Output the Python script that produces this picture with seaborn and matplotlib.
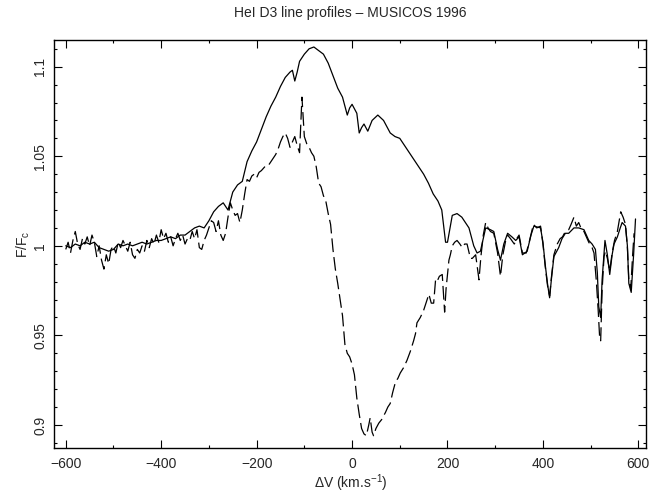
import numpy as np
import pandas as pd
import matplotlib
matplotlib.use("Agg")
import matplotlib.pyplot as plt
import seaborn as sns
from matplotlib.ticker import MultipleLocator, FuncFormatter

# Profil plein (premiere observation)
v_solid = [-600, -590, -580, -570, -560, -550, -540, -530, -520, -510, -500, -490, -480,
           -470, -460, -450, -440, -430, -420, -410, -400, -390, -380, -370, -360, -350,
           -340, -330, -320, -310, -300, -290, -280, -270, -260, -250, -240, -230, -220,
           -210, -200, -190, -180, -170, -160, -150, -140, -130, -125, -120, -115, -110,
           -100, -90, -80, -70, -60, -50, -40, -30, -20, -10, -5, 0, 10, 15, 20, 25, 33,
           42, 54, 66, 80, 90, 100, 110, 120, 130, 140, 150, 160, 170, 180, 188, 196, 200,
           210, 220, 230, 245, 255, 262, 269, 280, 290, 297, 305, 311, 318, 326, 335, 343,
           350, 357, 367, 375, 381, 395, 400, 405, 410, 414, 418, 423, 433, 440, 447, 454,
           465, 475, 486, 496, 503, 510, 514, 517, 521, 524, 530, 535, 540, 545, 549, 556,
           562, 566, 573, 577, 580, 585, 590, 594]
f_solid = [1.000, 0.999, 1.001, 1.000, 1.002, 1.001, 1.002, 0.999, 0.998, 0.997, 0.998, 1.001, 1.000,
           1.001, 1.000, 1.001, 1.002, 1.001, 1.002, 1.003, 1.003, 1.004, 1.005, 1.004, 1.006, 1.006,
           1.008, 1.010, 1.011, 1.010, 1.014, 1.019, 1.022, 1.024, 1.020, 1.030, 1.034, 1.036, 1.047,
           1.053, 1.058, 1.065, 1.072, 1.078, 1.083, 1.089, 1.094, 1.097, 1.098, 1.092, 1.097, 1.103,
           1.107, 1.110, 1.111, 1.109, 1.107, 1.102, 1.095, 1.088, 1.083, 1.073, 1.077, 1.079, 1.074,
           1.063, 1.066, 1.068, 1.064,
           1.070, 1.073, 1.070, 1.063, 1.061, 1.060, 1.056, 1.052, 1.048, 1.044, 1.040, 1.035, 1.029,
           1.025, 1.020, 1.002, 1.002,
           1.017, 1.018, 1.016, 1.010, 1.000, 0.996, 0.997, 1.010, 1.009, 1.008, 0.998, 0.992, 1.001,
           1.007, 1.005, 1.003,
           1.005, 0.995, 0.997, 1.006, 1.011, 1.010, 1.002, 0.989, 0.978, 0.971, 0.982, 0.994, 0.999,
           1.004, 1.007, 1.007,
           1.010, 1.010, 1.009, 1.003, 1.001, 0.998, 0.985, 0.966, 0.960, 0.981, 1.003, 0.995, 0.984,
           0.995, 1.001, 1.005,
           1.010, 1.013, 1.011, 1.000, 0.979, 0.974, 0.995, 1.015]

# Profil en tirets (seconde observation)
v_dash = [-600, -595, -590, -585, -580, -575, -570, -565, -560, -555, -550, -545, -540, -535,
          -530, -525, -520, -515, -510, -505, -500, -495, -490, -485, -480, -475, -470, -465,
          -460, -455, -450, -445, -440, -435, -430, -425, -420, -415, -410, -405, -400, -395,
          -390, -385, -380, -375, -370, -365, -360, -355, -350, -345, -340, -335, -330, -325,
          -320, -315, -310, -305, -300, -295, -290, -285, -280, -275, -270, -265, -260, -255,
          -250, -245, -240, -235, -230, -225, -220, -215, -210, -205, -200, -195, -190, -180,
          -175, -170, -160, -155, -150, -145, -140, -135, -130, -125, -120, -115, -110, -105,
          -100, -95, -90, -85, -80, -75, -70, -65, -60, -55, -50, -45, -40, -35, -30, -25,
          -20, -15, -10, -5, 0, 5, 10, 15, 20, 25, 30, 35, 38, 42, 45, 50, 56, 62, 70, 75,
          80, 85, 91, 96, 101, 108, 115, 122, 129, 133, 136, 143, 150, 156, 161, 166, 171,
          175, 178, 183, 189, 194, 197, 203, 206, 210, 215, 220, 226, 231, 236, 241, 248,
          252, 259, 263, 266, 270, 275, 280, 285, 290, 297, 305, 311, 316, 322, 326, 332,
          340, 345, 350, 357, 365, 372, 380, 387, 395, 400, 405, 410, 414, 418, 423, 430,
          436, 441, 447, 454, 459, 465, 470, 475, 481, 486, 496, 503, 507, 512, 516, 519,
          521, 524, 528, 531, 535, 540, 545, 550, 556, 563, 568, 573, 577, 580, 584, 588, 591]
f_dash = [0.998, 1.002, 0.996, 1.003, 1.008, 1.001, 0.998, 1.004, 1.001, 1.005, 1.000, 1.006, 1.002, 0.994,
          1.000, 0.992, 0.987, 0.995, 0.990, 0.998, 1.000, 0.996, 1.002, 0.999, 1.003, 1.000, 0.997, 1.002,
          0.995, 0.993, 0.998, 0.996, 1.000, 0.997, 1.003, 0.999, 1.004, 1.001, 1.006, 1.002, 1.009, 1.004,
          1.007, 1.002, 1.005, 1.000, 1.004, 1.007, 1.003, 1.006, 1.001, 1.004, 1.003, 1.008, 1.004, 1.009,
          0.999, 0.998, 1.003, 1.006, 1.010, 1.014, 1.013, 1.008, 1.014, 1.006, 1.003, 1.007, 1.016, 1.024,
          1.020, 1.017, 1.018, 1.013, 1.020, 1.029, 1.037, 1.036, 1.039, 1.040, 1.038, 1.041, 1.042, 1.045,
          1.045, 1.047, 1.051, 1.054, 1.058, 1.061, 1.063, 1.060, 1.055, 1.058, 1.061, 1.056, 1.052, 1.083,
          1.061, 1.057, 1.055, 1.052, 1.050, 1.044, 1.035, 1.033, 1.028, 1.025, 1.018, 1.012, 0.998, 0.987,
          0.979, 0.970,
          0.961, 0.945, 0.940, 0.938, 0.934, 0.928, 0.915, 0.906, 0.898, 0.895, 0.894, 0.900, 0.904, 0.896,
          0.894, 0.898, 0.901, 0.903, 0.907, 0.910,
          0.912, 0.918, 0.924, 0.926, 0.929, 0.932, 0.936, 0.941, 0.947, 0.951, 0.957, 0.960, 0.964, 0.969,
          0.973, 0.968, 0.968,
          0.981, 0.980, 0.983, 0.984, 0.963, 0.976, 0.992, 0.995, 1.000, 1.002, 1.003, 1.001, 0.999, 1.001,
          1.001, 0.993,
          0.993, 0.995, 0.987, 0.981, 0.994, 1.006, 1.013, 1.010, 1.008, 1.007, 0.996, 0.983, 0.995, 1.003,
          1.006, 1.004,
          1.001, 1.004, 1.006, 0.996, 0.996, 1.003, 1.012, 1.010, 1.011, 1.001, 0.988, 0.977, 0.972, 0.983,
          0.995, 1.001,
          1.004, 1.005, 1.008, 1.009, 1.012, 1.016, 1.011, 1.013, 1.009, 1.008, 1.002, 0.999, 0.996, 0.980,
          0.963, 0.948,
          0.947, 0.975, 0.994, 0.997, 0.993, 0.986, 0.996, 1.003, 1.008, 1.019, 1.016, 1.012, 0.999, 0.981,
          0.976, 0.995, 1.007]


def plot_profiles():
    sns.set_style("ticks")
    plt.rcParams["font.family"] = ["Liberation Sans", "DejaVu Sans"]
    plt.rcParams["mathtext.fontset"] = "custom"
    plt.rcParams["mathtext.rm"] = "Liberation Sans"
    plt.rcParams["mathtext.it"] = "Liberation Sans:italic"

    fig = plt.figure(figsize=(6.58, 4.97), dpi=100)
    ax = fig.add_axes([0.0825, 0.0992, 0.9000, 0.8203])

    solid = pd.DataFrame({"v": v_solid, "f": f_solid})
    dash = pd.DataFrame({"v": v_dash, "f": f_dash})

    sns.lineplot(data=solid, x="v", y="f", ax=ax, color="black", lw=0.9,
                 sort=False, estimator=None)
    sns.lineplot(data=dash, x="v", y="f", ax=ax, color="black", lw=0.9,
                 sort=False, estimator=None)
    ax.lines[1].set_linestyle((0, (11, 4)))

    ax.set_xlim(-624, 617)
    ax.set_ylim(0.8873, 1.1149)

    ax.xaxis.set_major_locator(MultipleLocator(200))
    ax.xaxis.set_minor_locator(MultipleLocator(100))
    ax.yaxis.set_major_locator(MultipleLocator(0.05))
    ax.yaxis.set_minor_locator(MultipleLocator(0.01))
    ax.yaxis.set_major_formatter(FuncFormatter(lambda val, pos: f"{val:g}"))

    ax.tick_params(which="both", direction="in", top=True, right=True,
                   color="black", width=0.8)
    ax.tick_params(which="major", length=5.5, labelsize=10, pad=7)
    ax.tick_params(axis="y", pad=5)
    ax.tick_params(which="minor", length=2.5)
    ax.tick_params(axis="y", labelrotation=90)
    for lab in ax.get_yticklabels():
        lab.set_va("center")

    for sp in ax.spines.values():
        sp.set_linewidth(1.0)
        sp.set_color("black")

    ax.set_xlabel(r"$\Delta$V (km.s$^{-1}$)", fontsize=10, labelpad=1)
    ax.set_ylabel(r"F/F$_{\rm c}$", fontsize=10, labelpad=1)
    fig.suptitle("HeI D3 line profiles \u2013 MUSICOS 1996", fontsize=10,
                 x=0.532, y=0.988, va="top")

    fig.savefig("out.png", dpi=100)


if __name__ == "__main__":
    plot_profiles()
